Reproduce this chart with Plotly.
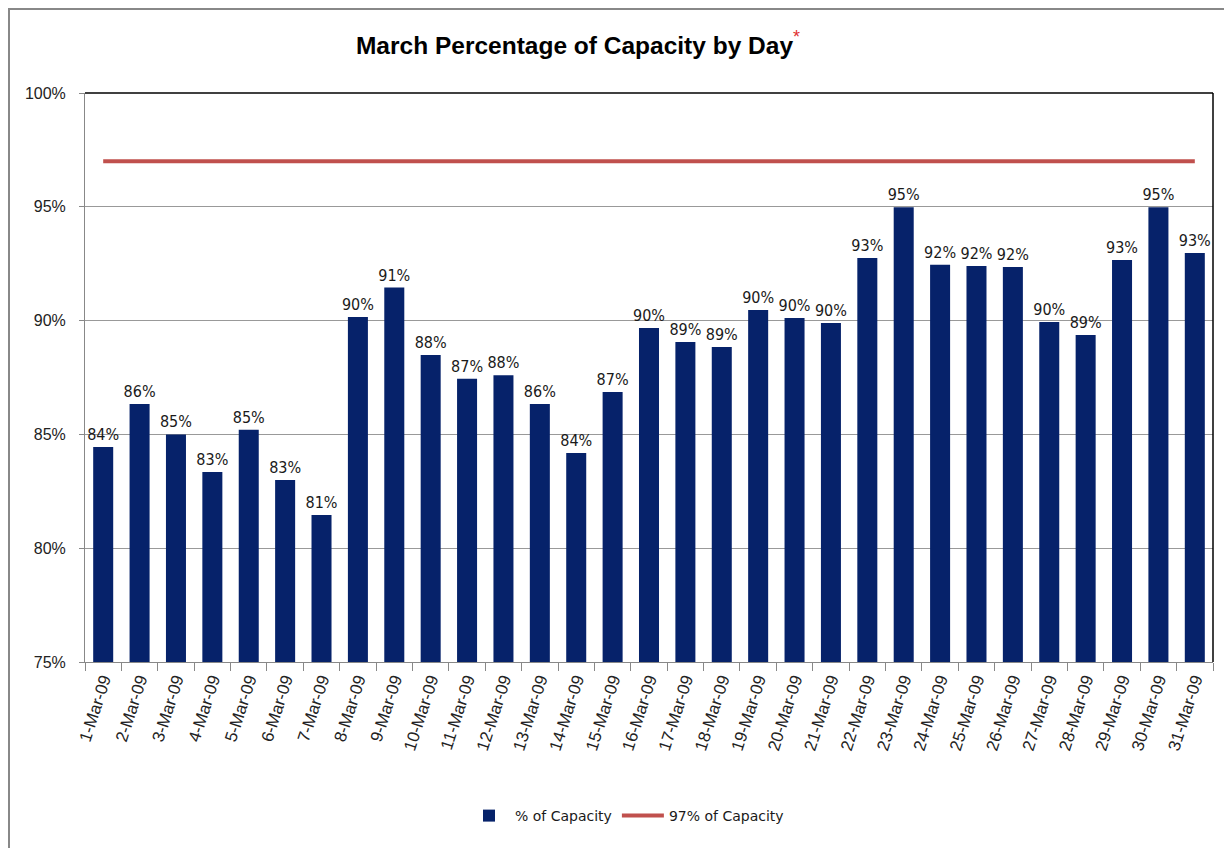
import plotly.graph_objects as go

days = [f"{d}-Mar-09" for d in range(1, 32)]
capacity = [84.45, 86.34, 85.0, 83.35, 85.2, 83.0, 81.46, 90.16, 91.45, 88.49,
            87.45, 87.6, 86.34, 84.18, 86.86, 89.67, 89.06, 88.84, 90.47, 90.11,
            89.9, 92.75, 94.98, 92.45, 92.4, 92.36, 89.94, 89.37, 92.66, 94.98, 92.97]
target = [97] * len(days)

W, H = 1224, 840
L, T, R, B = 77, 85, 19, 186
PW, PH = W - L - R, H - T - B

fig = go.Figure()
fig.add_trace(go.Bar(
    x=days, y=capacity, name="% of Capacity",
    marker=dict(color="#06226A", line=dict(width=0)),
    texttemplate="%{y:.0f}%", textposition="outside", cliponaxis=False,
    constraintext="none",
    textfont=dict(family="DejaVu Sans Condensed, Liberation Sans Narrow, DejaVu Sans",
                  size=16, color="#1a1a1a"),
))
fig.add_trace(go.Scatter(
    x=days, y=target, name="97% of Capacity", mode="lines",
    line=dict(color="#C0504D", width=4),
))

fig.update_layout(
    width=W, height=H, autosize=False,
    margin=dict(l=L, r=R, t=T, b=B, autoexpand=False),
    paper_bgcolor="white", plot_bgcolor="white",
    title=dict(
        text="<b>March Percentage of Capacity by Day</b><sup><span style='color:#E03030;font-size:18px'>*</span></sup>",
        x=570/W, xanchor="center", y=1-37/H, yanchor="middle",
        font=dict(family="Liberation Sans", size=24.5, color="black"),
    ),
    bargap=0.45,
    showlegend=True,
    legend=dict(orientation="h", x=(618-L)/PW, xanchor="center",
                y=(654-808)/PH, yanchor="middle", itemwidth=42,
                font=dict(family="DejaVu Sans", size=14, color="#1a1a1a")),
    font=dict(family="Liberation Sans", size=16, color="#222222"),
)
fig.update_xaxes(
    tickangle=-72, tickson="boundaries", ticks="outside", ticklen=8,
    tickcolor="#888888", showline=True, linecolor="#888888", linewidth=1,
    showgrid=False, automargin=False,
    tickfont=dict(family="Liberation Sans", size=17, color="#222222"),
)
fig.update_yaxes(
    range=[75, 100], dtick=5, ticksuffix="%", ticks="outside", ticklen=5,
    tickcolor="#888888", showline=True, linecolor="#888888", linewidth=1,
    showgrid=True, gridcolor="#999999", gridwidth=1, automargin=False,
    ticklabelstandoff=10,
    tickfont=dict(family="Liberation Sans", size=16, color="#222222"),
)
# plot area top and right border
fig.add_shape(type="line", xref="paper", yref="paper", x0=0, x1=1, y0=1, y1=1,
              line=dict(color="black", width=1.5))
fig.add_shape(type="line", xref="paper", yref="paper", x0=1, x1=1, y0=0, y1=1,
              line=dict(color="black", width=1.5))
# outer frame
fig.add_shape(type="rect", xref="paper", yref="paper",
              x0=(1-L)/PW, x1=1.1, y0=-0.5, y1=1+(T-1)/PH,
              line=dict(color="#888888", width=2), fillcolor="rgba(0,0,0,0)", layer="below")

fig.write_html("out.html")
